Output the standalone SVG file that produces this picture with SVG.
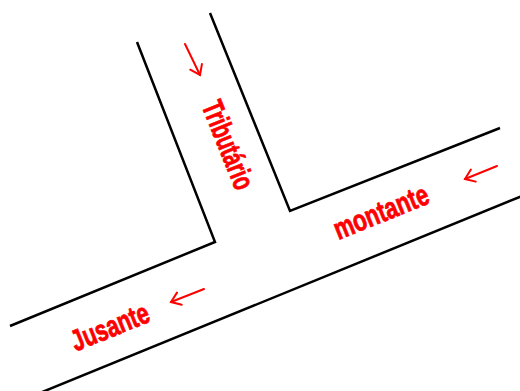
<svg xmlns="http://www.w3.org/2000/svg" width="520" height="391" viewBox="0 0 520 391">
  <style>
    .wall { fill: none; stroke: #000; stroke-width: 2.5; stroke-linejoin: miter; }
    .arrow { fill: none; stroke: #ff0000; stroke-width: 2; stroke-linecap: round; }
    .lbl { font-family: "Liberation Sans", Arial, sans-serif; font-weight: bold; font-size: 30px; fill: #ff0000; stroke: #ff0000; stroke-width: 0.8; }
  </style>
  <defs>
    <marker id="head" markerUnits="userSpaceOnUse" markerWidth="14" markerHeight="14" refX="11" refY="7" orient="auto" overflow="visible">
      <path d="M2,0.5 L11,7 L2,13.5" fill="none" stroke="#ff0000" stroke-width="2" stroke-linecap="round" stroke-linejoin="miter"/>
    </marker>
  </defs>
  <rect width="520" height="391" fill="#fff"/>
  <g id="walls">
    <polyline class="wall" points="137,42 215,242 10,326"/>
    <polyline class="wall" points="210,13 290,211 500,128"/>
    <line class="wall" x1="30" y1="397" x2="522" y2="196"/>
  </g>
  <g id="arrows">
    <line class="arrow" x1="185" y1="44" x2="200" y2="75" marker-end="url(#head)"/>
    <line class="arrow" x1="497" y1="166" x2="465" y2="179" marker-end="url(#head)"/>
    <line class="arrow" x1="204" y1="289" x2="171" y2="302" marker-end="url(#head)"/>
  </g>
  <g id="tributario">
    <text class="lbl" transform="translate(228,145) rotate(68)" x="0" y="10" text-anchor="middle" textLength="93" lengthAdjust="spacingAndGlyphs">Tributário</text>
  </g>
  <g id="montante">
    <text class="lbl" transform="translate(381,212) rotate(-22)" x="0" y="10" text-anchor="middle" textLength="100" lengthAdjust="spacingAndGlyphs">montante</text>
  </g>
  <g id="jusante">
    <text class="lbl" transform="translate(110,327) rotate(-22)" x="0" y="10" text-anchor="middle" textLength="82" lengthAdjust="spacingAndGlyphs">Jusante</text>
  </g>
</svg>
